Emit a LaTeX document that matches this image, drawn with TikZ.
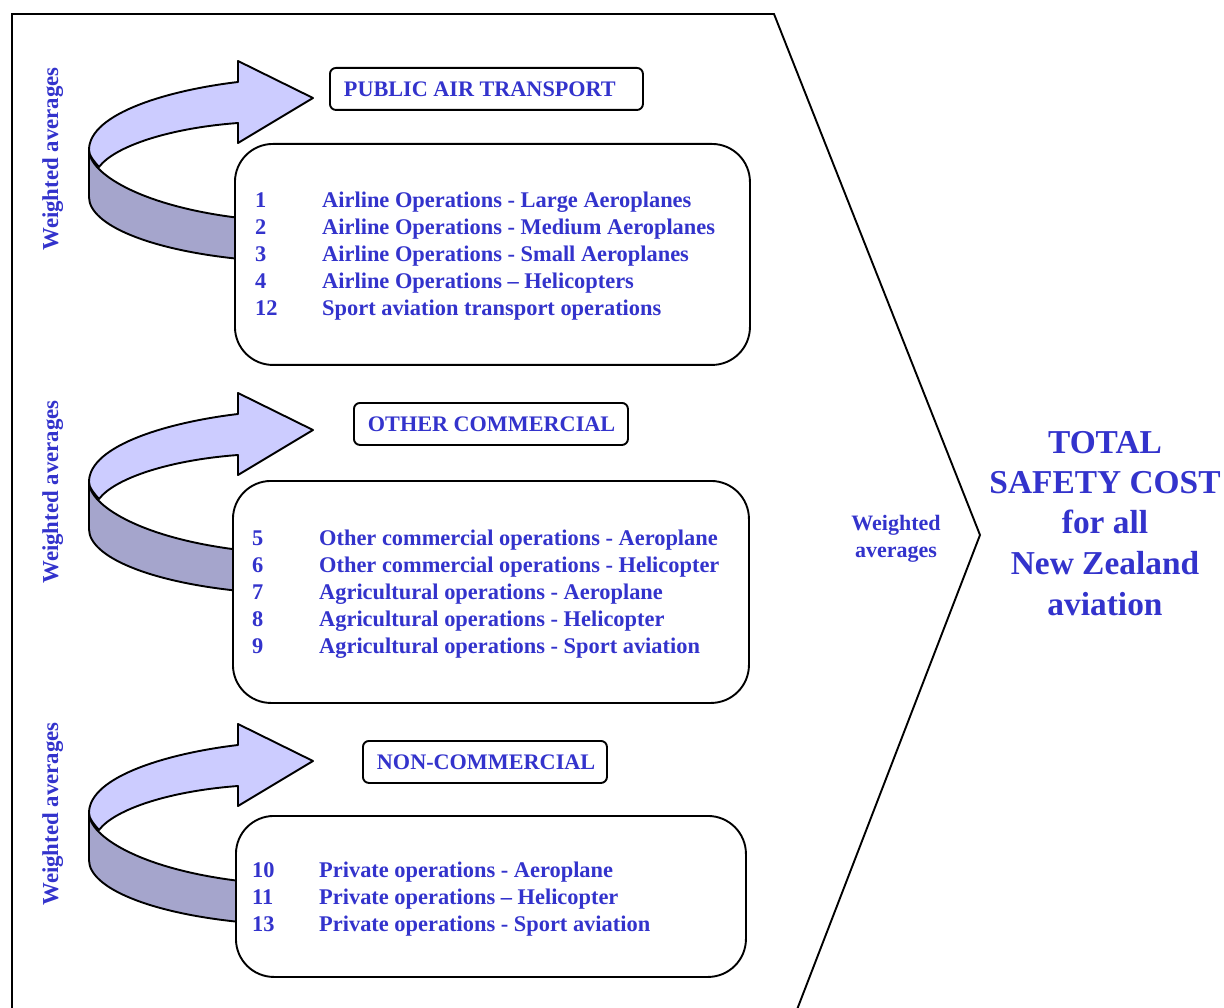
\documentclass[tikz,border=0pt]{standalone}
\usepackage{fontspec}
\setmainfont{Liberation Serif}

\definecolor{txtblue}{RGB}{51,51,204}
\definecolor{facelight}{RGB}{204,204,255}
\definecolor{faceside}{RGB}{165,165,204}

\tikzset{
  outline/.style={draw=black, line width=1.9pt, line join=round},
  listbox/.style={outline, fill=white, rounded corners=38pt, inner sep=0pt, anchor=north west},
  labelbox/.style={outline, fill=white, rounded corners=6pt, inner xsep=14pt, inner ysep=0pt,
    anchor=north west, text=txtblue, font=\bfseries\fontsize{22.2}{27}\selectfont},
  listtext/.style={anchor=base west, inner sep=0pt, text=txtblue,
    font=\bfseries\fontsize{22.4}{27}\selectfont},
  vlabel/.style={rotate=90, anchor=base, inner sep=0pt, text=txtblue,
    font=\bfseries\fontsize{22.8}{27}\selectfont},
  sumlabel/.style={anchor=base, inner sep=0pt, text=txtblue,
    font=\bfseries\fontsize{22}{27}\selectfont},
  bigtext/.style={anchor=base, inner sep=0pt, text=txtblue,
    font=\bfseries\fontsize{33.4}{40.5}\selectfont},
  % curled ribbon arrow: dark side band below, light top face ending in the head
  ribbon/.pic={
    \draw[outline, fill=faceside]
      (89,52) .. controls (89,75) and (140,108) .. (240,120)
      -- (240,161) .. controls (150,152) and (89,127) .. (89,99) -- cycle;
    \draw[outline, fill=facelight]
      (89,52) .. controls (89,15) and (170,-8) .. (238,-16)
      -- (238,-37) -- (313,0) -- (238,45) -- (238,25)
      .. controls (170,30) and (115,48) .. (99,69)
      .. controls (94,63) and (89,58) .. (89,52) -- cycle;
  }
}

\begin{document}
\begin{tikzpicture}[x=1pt, y=-1pt]
  \useasboundingbox (0,0) rectangle (1224,1008);
  \clip (0,0) rectangle (1224,1008);

  % outer chevron frame
  \draw[outline, line join=miter] (12,1020) -- (12,14) -- (774,14) -- (980,535) -- (793,1020);

  % ---------- public air transport ----------
  \pic (arrA) at (0,98) {ribbon};
  \node[listbox, minimum width=515pt, minimum height=221pt] (boxA) at (234,143) {};
  \node[labelbox, minimum width=313pt, minimum height=42pt] (labA) at (329,67)
    {\makebox[285pt][l]{PUBLIC AIR TRANSPORT}};
  \node[listtext] (listA) at (255,208) {\begin{tabular}[t]{@{}p{67pt}@{}l@{}}
    1 & Airline Operations - Large Aeroplanes\\
    2 & Airline Operations - Medium Aeroplanes\\
    3 & Airline Operations - Small Aeroplanes\\
    4 & Airline Operations – Helicopters\\
    12 & Sport aviation transport operations
  \end{tabular}};
  \node[vlabel] (waA) at (58,159) {Weighted averages};

  % ---------- other commercial ----------
  \pic (arrB) at (0,430) {ribbon};
  \node[listbox, minimum width=516pt, minimum height=222pt] (boxB) at (232,480) {};
  \node[labelbox, minimum width=274pt, minimum height=42pt] (labB) at (353,402)
    {\makebox[246pt][l]{OTHER COMMERCIAL}};
  \node[listtext] (listB) at (252,545) {\begin{tabular}[t]{@{}p{67pt}@{}l@{}}
    5 & Other commercial operations - Aeroplane\\
    6 & Other commercial operations - Helicopter\\
    7 & Agricultural operations - Aeroplane\\
    8 & Agricultural operations - Helicopter\\
    9 & Agricultural operations - Sport aviation
  \end{tabular}};
  \node[vlabel] (waB) at (58,492) {Weighted averages};

  % ---------- non-commercial ----------
  \pic (arrC) at (0,761) {ribbon};
  \node[listbox, minimum width=510pt, minimum height=161pt] (boxC) at (235,815) {};
  \node[labelbox, minimum width=244pt, minimum height=42pt] (labC) at (362,740)
    {\makebox[216pt][l]{NON-COMMERCIAL}};
  \node[listtext] (listC) at (252,877) {\begin{tabular}[t]{@{}p{67pt}@{}l@{}}
    10 & Private operations - Aeroplane\\
    11 & Private operations – Helicopter\\
    13 & Private operations - Sport aviation
  \end{tabular}};
  \node[vlabel] (waC) at (58,814) {Weighted averages};

  % ---------- overall result ----------
  \node[sumlabel] (waAll) at (896,530) {\begin{tabular}[t]{@{}c@{}}Weighted\\averages\end{tabular}};
  \node[bigtext] (total) at (1105,453) {\begin{tabular}[t]{@{}c@{}}
    TOTAL\\SAFETY COST\\for all\\New Zealand\\aviation\end{tabular}};
\end{tikzpicture}
\end{document}
